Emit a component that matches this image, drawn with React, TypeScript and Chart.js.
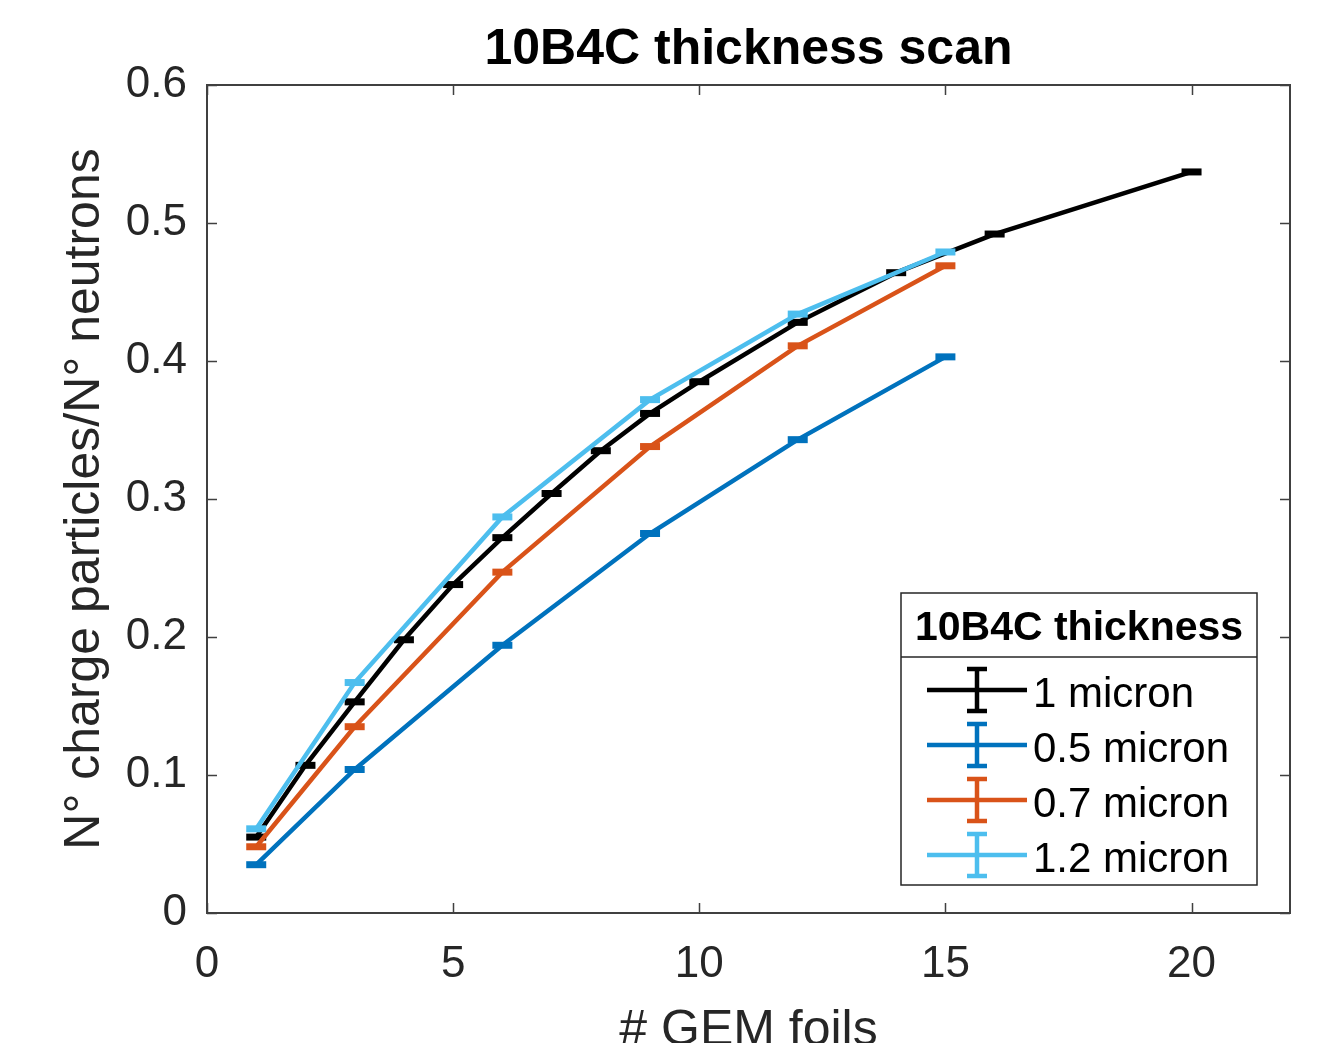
import React, { useEffect, useRef } from "react";
import { Chart, registerables } from "chart.js";

Chart.register(...registerables);

const FONT = "'Liberation Sans', Arial, Helvetica, sans-serif";

const chartTitle = "10B4C thickness scan";
const xTitle = "# GEM foils";
const yTitle = "N° charge particles/N° neutrons";
const legendTitle = "10B4C thickness";

const xTicks = [0, 5, 10, 15, 20];
const yTicks = [0, 0.1, 0.2, 0.3, 0.4, 0.5, 0.6];

const foilsLong = [1, 2, 3, 4, 5, 6, 7, 8, 9, 10, 12, 14, 16, 20];
const foilsShort = [1, 3, 6, 9, 12, 15];

const micron1 = [0.055, 0.107, 0.153, 0.198, 0.238, 0.272, 0.304, 0.335, 0.362, 0.385, 0.428, 0.464, 0.492, 0.537];
const micron05 = [0.035, 0.104, 0.194, 0.275, 0.343, 0.403];
const micron07 = [0.048, 0.135, 0.247, 0.338, 0.411, 0.469];
const micron12 = [0.061, 0.167, 0.287, 0.372, 0.434, 0.479];

const seriesLabels = ["1 micron", "0.5 micron", "0.7 micron", "1.2 micron"];
const seriesColors = ["#000000", "#0072BD", "#D95319", "#4DBEEE"];

const W = 1327;
const H = 1080;

const framePlugin = {
  id: "frame",
  beforeDatasetsDraw(chart: any) {
    const { ctx, chartArea: a, scales } = chart;
    const x = scales.x;
    const y = scales.y;
    ctx.save();
    ctx.strokeStyle = "#404040";
    ctx.lineWidth = 2;
    ctx.strokeRect(a.left, a.top, a.right - a.left, a.bottom - a.top);
    ctx.lineWidth = 1.5;
    ctx.beginPath();
    for (const t of xTicks) {
      const px = Math.round(x.getPixelForValue(t)) + 0.5;
      ctx.moveTo(px, a.bottom);
      ctx.lineTo(px, a.bottom - 10);
      ctx.moveTo(px, a.top);
      ctx.lineTo(px, a.top + 10);
    }
    for (const t of yTicks) {
      const py = Math.round(y.getPixelForValue(t)) + 0.5;
      ctx.moveTo(a.left, py);
      ctx.lineTo(a.left + 10, py);
      ctx.moveTo(a.right, py);
      ctx.lineTo(a.right - 10, py);
    }
    ctx.stroke();
    ctx.restore();
  },
};

const legendPlugin = {
  id: "matlabLegend",
  afterDraw(chart: any) {
    const { ctx } = chart;
    const left = 901;
    const top = 593;
    const right = 1257;
    const bottom = 885;
    const sep = 657;
    ctx.save();
    ctx.fillStyle = "#ffffff";
    ctx.fillRect(left, top, right - left, bottom - top);
    ctx.strokeStyle = "#262626";
    ctx.lineWidth = 1.5;
    ctx.strokeRect(left, top, right - left, bottom - top);
    ctx.beginPath();
    ctx.moveTo(left, sep);
    ctx.lineTo(right, sep);
    ctx.stroke();

    ctx.fillStyle = "#000000";
    ctx.font = `bold 41px ${FONT}`;
    ctx.textAlign = "center";
    ctx.textBaseline = "middle";
    ctx.fillText(legendTitle, (left + right) / 2, (top + sep) / 2 + 4);

    ctx.font = `42px ${FONT}`;
    ctx.textAlign = "left";
    chart.data.datasets.forEach((ds: any, i: number) => {
      const cy = 690 + i * 55;
      const cx = 977;
      ctx.strokeStyle = ds.borderColor;
      ctx.lineWidth = 4.5;
      ctx.beginPath();
      ctx.moveTo(927, cy);
      ctx.lineTo(1027, cy);
      ctx.moveTo(cx, cy - 21);
      ctx.lineTo(cx, cy + 21);
      ctx.moveTo(cx - 10, cy - 21);
      ctx.lineTo(cx + 10, cy - 21);
      ctx.moveTo(cx - 10, cy + 21);
      ctx.lineTo(cx + 10, cy + 21);
      ctx.stroke();
      ctx.fillStyle = "#000000";
      ctx.fillText(ds.label, 1033, cy + 5);
    });
    ctx.restore();
  },
};

function makeDataset(label: string, xs: number[], ys: number[], color: string, order: number) {
  return {
    label,
    data: xs.map((v, i) => ({ x: v, y: ys[i] })),
    borderColor: color,
    backgroundColor: color,
    borderWidth: 4.5,
    pointStyle: "line",
    pointRadius: 10,
    pointBorderWidth: 7,
    pointBorderColor: color,
    pointHoverRadius: 10,
    tension: 0,
    fill: false,
    order,
  };
}

export default function App() {
  const canvasRef = useRef<HTMLCanvasElement | null>(null);

  useEffect(() => {
    const canvas = canvasRef.current;
    if (!canvas) return;
    const chart = new Chart(canvas, {
      type: "line",
      data: {
        datasets: [
          makeDataset(seriesLabels[0], foilsLong, micron1, seriesColors[0], 4),
          makeDataset(seriesLabels[1], foilsShort, micron05, seriesColors[1], 3),
          makeDataset(seriesLabels[2], foilsShort, micron07, seriesColors[2], 2),
          makeDataset(seriesLabels[3], foilsShort, micron12, seriesColors[3], 1),
        ] as any,
      },
      options: {
        responsive: false,
        animation: false,
        devicePixelRatio: 1,
        layout: { padding: { top: 0, right: 37, left: 0, bottom: 0 } },
        plugins: {
          legend: { display: false },
          tooltip: { enabled: false },
          title: {
            display: true,
            text: chartTitle,
            fullSize: false,
            color: "#000000",
            font: { family: FONT, size: 50, weight: "bold", lineHeight: 1.2 },
            padding: { top: 20, bottom: 5 },
          },
        },
        scales: {
          x: {
            type: "linear",
            min: 0,
            max: 22,
            afterBuildTicks: (s: any) => {
              s.ticks = xTicks.map((v) => ({ value: v }));
            },
            afterFit: (s: any) => {
              s.height = H - 913;
            },
            grid: { display: false, drawTicks: false },
            border: { display: false },
            ticks: {
              color: "#262626",
              font: { family: FONT, size: 44, lineHeight: 1.2 },
              padding: 25,
              maxRotation: 0,
              callback: (v: any) => String(v),
            },
            title: {
              display: true,
              text: xTitle,
              color: "#262626",
              font: { family: FONT, size: 50, lineHeight: 1.2 },
              padding: { top: 0, bottom: 19 },
            },
          },
          y: {
            type: "linear",
            min: 0,
            max: 0.6,
            afterBuildTicks: (s: any) => {
              s.ticks = yTicks.map((v) => ({ value: v }));
            },
            afterFit: (s: any) => {
              s.width = 207;
            },
            grid: { display: false, drawTicks: false },
            border: { display: false },
            ticks: {
              color: "#262626",
              font: { family: FONT, size: 44, lineHeight: 1.2 },
              padding: 20,
              callback: (v: any) => (Number(v) === 0 ? "0" : Number(v).toFixed(1)),
            },
            title: {
              display: true,
              text: yTitle,
              color: "#262626",
              font: { family: FONT, size: 50, lineHeight: 1.2 },
              padding: { top: 55, bottom: 0 },
            },
          },
        },
      } as any,
      plugins: [framePlugin, legendPlugin],
    });
    return () => chart.destroy();
  }, []);

  return (
    <div
      style={{
        position: "fixed",
        left: 0,
        top: 0,
        width: W,
        height: 1043,
        overflow: "hidden",
        background: "#ffffff",
      }}
    >
      <canvas ref={canvasRef} width={W} height={H} style={{ display: "block" }} />
    </div>
  );
}
